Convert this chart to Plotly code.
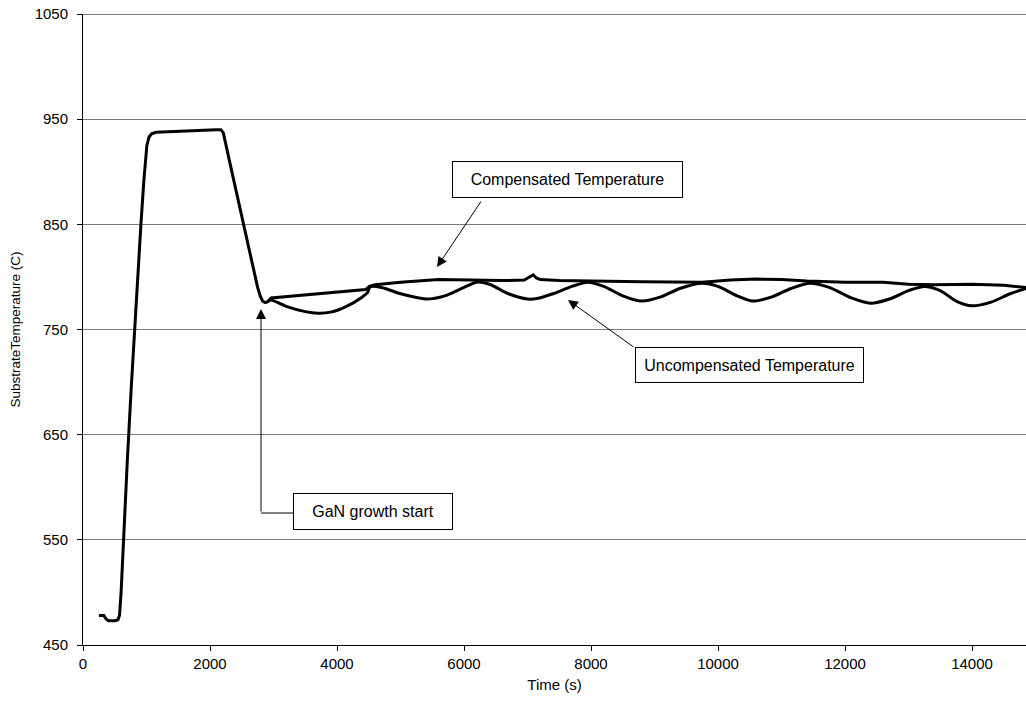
import plotly.graph_objects as go

# ---- data ----
common_time = [250, 330, 360, 400, 450, 500, 550, 575, 600, 640, 700, 760, 820, 913, 960, 1006,
               1040, 1080, 1150, 1300, 1500, 1700, 1900, 2100, 2170, 2210, 2300, 2400, 2520,
               2620, 2700, 2750, 2790, 2830, 2870, 2910]
common_temp = [478, 478, 475, 473, 473, 473, 474, 478, 500, 555, 628, 695, 759, 851, 893, 925,
               933, 936, 937.5, 938, 938.5, 939, 939.5, 940, 940, 937, 912, 885, 851,
               824, 802, 790, 782, 777, 775.5, 776.5]

comp_time = [2960, 3500, 4000, 4450, 4510, 4600, 5000, 5600, 6100, 6600, 6950, 7040, 7090, 7140,
             7200, 7500, 8000, 8800, 9750, 10200, 10600, 11000, 11400, 12000, 12600, 13000,
             13400, 14000, 14500, 14850]
comp_temp = [780, 783, 785.5, 788, 791, 792.5, 795, 797.5, 797, 796.5, 797, 800, 802, 799,
             797.5, 796.5, 796, 795.5, 795, 797, 798, 797.5, 796, 795, 795, 793,
             792.5, 793, 792, 790]

uncomp_time = [2960, 3200, 3500, 3700, 3900, 4150, 4400, 4480, 4520, 4700, 5000, 5400, 5700,
               6000, 6200, 6400, 6700, 7000, 7150, 7400, 7700, 7950, 8200, 8500, 8800, 9100,
               9400, 9750, 10000, 10300, 10550, 10850, 11150, 11450, 11750, 12100, 12400,
               12700, 13000, 13250, 13500, 13750, 14000, 14300, 14600, 14850]
uncomp_temp = [778, 772, 767, 765.5, 766.5, 772, 781, 785, 790.5, 790, 784, 779, 782,
               790, 795, 793, 784, 779, 779.5, 784, 791, 795, 791, 782, 777, 781,
               789, 794, 791, 782, 777, 781, 789, 794, 790, 780, 775,
               779, 787, 791, 787, 777, 772.5, 776, 784, 789]

y_ticks = [450, 550, 650, 750, 850, 950, 1050]
x_ticks = [0, 2000, 4000, 6000, 8000, 10000, 12000, 14000]

FONT = "Liberation Sans, Arial, sans-serif"

fig = go.Figure()
fig.add_trace(go.Scatter(
    x=common_time + comp_time, y=common_temp + comp_temp,
    mode="lines", line=dict(color="black", width=3),
    name="Compensated Temperature", showlegend=False))
fig.add_trace(go.Scatter(
    x=[common_time[-1]] + uncomp_time, y=[common_temp[-1]] + uncomp_temp,
    mode="lines", line=dict(color="black", width=3, shape="spline", smoothing=0.8),
    name="Uncompensated Temperature", showlegend=False))

fig.update_layout(
    width=1026, height=706,
    margin=dict(l=83, r=0, t=14, b=61),
    paper_bgcolor="white", plot_bgcolor="white",
    font=dict(family=FONT, size=15, color="black"),
    xaxis=dict(range=[0, 14850], tickvals=x_ticks, ticktext=[str(v) for v in x_ticks],
               showgrid=False, zeroline=False, showline=True, linecolor="black", linewidth=1,
               ticks="outside", ticklen=5, tickcolor="black",
               title=dict(text="Time (s)", font=dict(size=15), standoff=8)),
    yaxis=dict(range=[450, 1050], tickvals=y_ticks, ticktext=[str(v) for v in y_ticks],
               showgrid=True, gridcolor="#7a7a7a", gridwidth=1, zeroline=False,
               showline=True, linecolor="black", linewidth=1,
               ticks="outside", ticklen=5, tickcolor="black", ticklabelstandoff=6,
               title=dict(text="SubstrateTemperature (C)", font=dict(size=13.5), standoff=10)),
)

# top border
fig.add_shape(type="line", xref="paper", x0=0, x1=1, yref="y", y0=1050, y1=1050,
              line=dict(color="black", width=1), layer="above")
# GaN connector horizontal part
fig.add_shape(type="line", xref="x", yref="y", x0=2803, x1=3307, y0=575.5, y1=575.5,
              line=dict(color="black", width=1))

# arrows
arrow_common = dict(text="", showarrow=True, arrowhead=2, arrowsize=2, arrowwidth=1,
                    arrowcolor="black", xref="x", yref="y", axref="x", ayref="y")
fig.add_annotation(x=5575, y=809.4, ax=6283, ay=873.1, **arrow_common)
fig.add_annotation(x=7637, y=778.1, ax=8693, ay=732.4, **arrow_common)
fig.add_annotation(x=2803, y=769.5, ax=2803, ay=575.5, **arrow_common)

# label boxes
box_common = dict(showarrow=False, xref="x", yref="y", bordercolor="black", borderwidth=1,
                  borderpad=0, bgcolor="white", font=dict(family=FONT, size=16, color="black"))
fig.add_annotation(x=7622, y=892.2, text="Compensated Temperature", width=229, height=35, **box_common)
fig.add_annotation(x=10488, y=715.8, text="Uncompensated Temperature", width=227, height=34, **box_common)
fig.add_annotation(x=4559, y=577.4, text="GaN growth start", width=158, height=35, **box_common)

fig.write_html("out.html", config={"displayModeBar": False},
               post_script="document.body.style.margin='0';")
